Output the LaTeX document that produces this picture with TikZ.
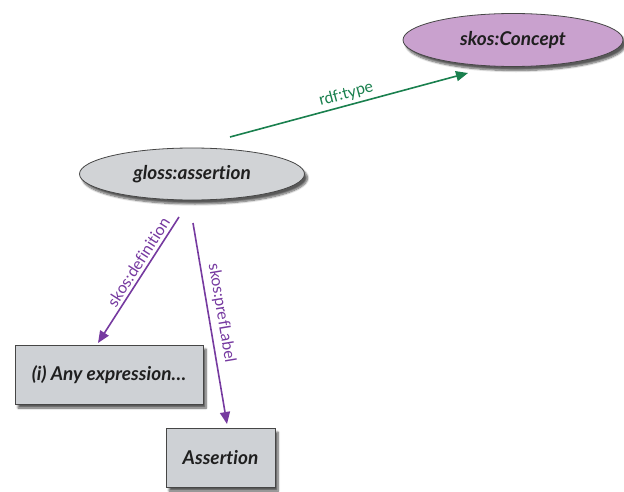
\documentclass[tikz,border=0pt]{standalone}
\usepackage{fontspec}
\setmainfont{Lato}[Ligatures=NoCommon]
\usetikzlibrary{shapes.geometric,shadows.blur,arrows.meta}
\definecolor{conceptfill}{RGB}{201,161,206}
\definecolor{nodegray}{RGB}{209,211,214}
\definecolor{boxgray}{RGB}{206,209,213}
\definecolor{edgegreen}{RGB}{26,128,78}
\definecolor{edgepurple}{RGB}{118,58,160}
\definecolor{outline}{RGB}{70,70,70}
\tikzset{
  shade/.style={blur shadow={shadow xshift=3pt,shadow yshift=-4pt,shadow blur steps=8,shadow opacity=65}},
  resource/.style={ellipse,draw=outline,line width=0.8pt,shade,inner sep=0pt,
    font=\fontsize{19}{22}\selectfont\bfseries\itshape,text=black!88},
  literal/.style={rectangle,draw=outline,line width=0.8pt,shade,fill=boxgray,inner sep=0pt,
    font=\fontsize{19}{22}\selectfont\bfseries\itshape,text=black!88},
  rel/.style={line width=1.6pt,-{Triangle[length=12pt,width=10pt]}},
  rellabel/.style={font=\fontsize{16}{18}\selectfont,inner sep=1pt}
}
\begin{document}
\begin{tikzpicture}[x=1pt,y=-1pt]
\useasboundingbox (0,0) rectangle (624,492);
\node[resource,fill=conceptfill,minimum width=220pt,minimum height=53pt] (concept) at (513,40) {skos:Concept};
\node[resource,fill=nodegray,minimum width=225pt,minimum height=52pt] (assertion) at (192,174) {gloss:assertion};
\node[literal,minimum width=188pt,minimum height=59pt] (defn) at (109,374.5) {(i) Any expression…};
\node[literal,minimum width=109pt,minimum height=59pt] (label) at (220.5,457.5) {Assertion};

\coordinate (typeStart) at (230,137);
\coordinate (typeEnd) at (468,73);
\coordinate (defStart) at (179,217);
\coordinate (defEnd) at (98,343);
\coordinate (prefStart) at (193,223);
\coordinate (prefEnd) at (227,424);

\draw[rel,edgegreen] (typeStart) -- node[rellabel,sloped,above=2pt,text=edgegreen] {rdf:type} (typeEnd);
\draw[rel,edgepurple] (defStart) -- node[rellabel,sloped,above=2pt,text=edgepurple,pos=0.4] {skos:definition} (defEnd);
\draw[rel,edgepurple] (prefStart) -- node[rellabel,sloped,above=4pt,text=edgepurple,pos=0.46] {skos:prefLabel} (prefEnd);
\end{tikzpicture}
\end{document}
